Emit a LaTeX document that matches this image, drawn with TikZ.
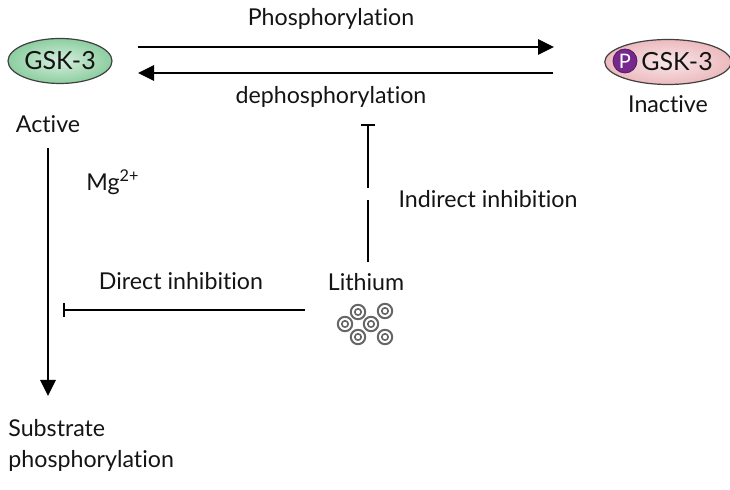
\documentclass[tikz,border=0pt]{standalone}
\usepackage{fontspec}
\setmainfont[Ligatures=NoCommon]{Lato}
\usetikzlibrary{arrows.meta,shapes.geometric}
\definecolor{gskgreen}{RGB}{140,206,160}
\definecolor{gskpink}{RGB}{236,186,190}
\definecolor{ppurple}{RGB}{118,40,140}
\definecolor{txt}{RGB}{20,20,20}
\begin{document}
\begin{tikzpicture}[x=0.5pt,y=-0.5pt,
  lbl/.style={text=txt,font=\fontsize{11.6}{13}\selectfont,inner sep=1pt},
  enz/.style={ellipse,draw=black!75,line width=0.6pt,minimum width=52pt,minimum height=22.5pt,inner sep=0pt,text=txt,font=\fontsize{12.5}{14}\selectfont},
  conn/.style={line width=1.4pt,draw=black},
  tip/.style={-{Triangle[length=8pt,width=7.5pt]}},
  inh/.style={-{Bar[width=7pt,line width=1.2pt]}},
  litdot/.style={circle,draw=black!60,line width=1pt,minimum size=7.2pt,inner sep=0pt},
  litin/.style={circle,draw=black!60,line width=0.8pt,minimum size=3.2pt,inner sep=0pt}]
\useasboundingbox (0,0) rectangle (730,490);

% enzymes
\node[enz,inner color=gskgreen!35,outer color=gskgreen] (act) at (60,61) {GSK-3};
\node[enz,inner color=gskpink!35,outer color=gskpink] (inact) at (668,62) {\hspace{9pt}GSK-3};
\node[circle,fill=ppurple,draw=ppurple!70!black,line width=0.4pt,minimum size=12pt,inner sep=0pt,text=white,font=\fontsize{10}{11}\selectfont] (p) at (625,61) {P};

\node[lbl] (activelbl) at (48,124) {Active};
\node[lbl] (inactlbl) at (668,104) {Inactive};

% phosphorylation arrows
\coordinate (pa1) at (138,47);
\coordinate (pa2) at (554,47);
\coordinate (da1) at (553,73);
\coordinate (da2) at (138,73);
\draw[conn,tip] (pa1) -- (pa2);
\draw[conn,tip] (da1) -- (da2);
\node[lbl] (phos) at (331,19) {Phosphorylation};
\node[lbl] (dephos) at (331,97) {dephosphorylation};

% lithium
\node[lbl] (li) at (366,282) {Lithium};
\coordinate (ind1) at (368,262);
\coordinate (ind2) at (368,200);
\coordinate (ind3) at (368,188);
\coordinate (ind4) at (368,124);
\draw[conn,line width=1.2pt] (ind1) -- (ind2);
\draw[conn,line width=1.2pt,inh] (ind3) -- (ind4);
\node[lbl] (indlbl) at (488,199) {Indirect inhibition};

\coordinate (dir1) at (305,310);
\coordinate (dir2) at (63,310);
\draw[conn,line width=1.2pt,inh] (dir1) -- (dir2);
\node[lbl] (dirlbl) at (181,281) {Direct inhibition};

\foreach \n/\x/\y in {d1/358/312,d2/385/311,d3/345/324,d4/371/324,d5/358/337,d6/385/337}{
  \node[litdot] (\n) at (\x,\y) {};
  \node[litin] at (\n) {};
}

% substrate arrow
\coordinate (s1) at (48,148);
\coordinate (s2) at (48,396);
\draw[conn,tip] (s1) -- (s2);
\node[lbl] (mg) at (113,182) {Mg\textsuperscript{2+}};
\node[lbl,align=left,anchor=north west,font=\fontsize{11.6}{15.5}\selectfont] (sub) at (6,417) {Substrate\\phosphorylation};
\end{tikzpicture}
\end{document}
